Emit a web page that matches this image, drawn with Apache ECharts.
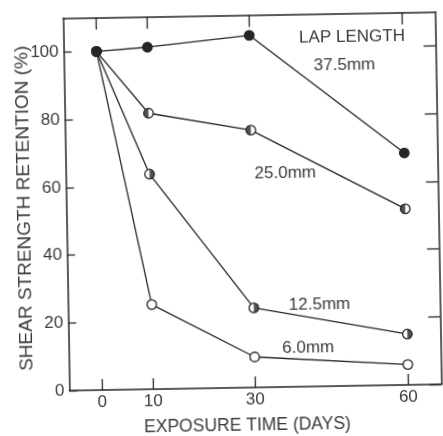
<!DOCTYPE html>
<html><head><meta charset="utf-8">
<script src="https://cdn.jsdelivr.net/npm/echarts@6/dist/echarts.min.js"></script>
<style>
html,body{margin:0;padding:0;background:#fff;overflow:hidden}
#c{width:443px;height:436px;transform:rotate(-0.97deg);transform-origin:221.5px 218px}
</style>
</head><body><div id="c"></div>
<script>
const days = [0, 10, 30, 60];
const lap375 = [100, 101, 104, 68.5];
const lap250 = [100, 81.5, 76, 52];
const lap125 = [100, 63.5, 23.5, 15];
const lap60 = [100, 25, 9, 6];
const xTicks = [0, 10, 30, 60];
const yTicks = [0, 20, 40, 60, 80, 100];
const seriesNames = ['37.5mm', '25.0mm', '12.5mm', '6.0mm'];
const xTitle = 'EXPOSURE TIME (DAYS)';
const yTitle = 'SHEAR STRENGTH RETENTION (%)';
const legendTitle = 'LAP LENGTH';

const ink = '#262626';
const txt = '#3a3a3a';
const font = '"Liberation Sans", Arial, sans-serif';
const pts = v => days.map((d, i) => [d, v[i]]);
const halfLeft = 'path://M10,0 A10,10 0 0,0 10,20 Z';
const halfRight = 'path://M0,0 A10,10 0 0,1 0,20 Z';

function lineSeries(name, vals, fill, z) {
  return {
    name, type: 'line', data: pts(vals), symbol: 'circle', symbolSize: 9.5,
    lineStyle: { color: ink, width: 1.3 },
    itemStyle: { color: fill, borderColor: ink, borderWidth: 1.3 },
    z: z
  };
}
function halfSeries(vals, path, off) {
  return {
    type: 'scatter', data: pts(vals), symbol: path, symbolSize: [4.75, 9.5], symbolOffset: [off, 0],
    itemStyle: { color: ink }, z: 4, silent: true
  };
}

const chart = echarts.init(document.getElementById('c'));
const axisLine = { show: true, onZero: false, lineStyle: { color: ink, width: 1.5 } };
const tick = (len, vals) => ({ show: true, inside: true, length: len, customValues: vals, lineStyle: { color: ink, width: 1.3 } });
const lbl = { fontFamily: font, fontSize: 17, color: txt };

chart.setOption({
  animation: false,
  backgroundColor: '#fff',
  grid: { left: 66.5, right: 4.5, top: 15.5, bottom: 48 },
  xAxis: [
    { type: 'value', min: -6.43, max: 66.5, position: 'bottom', axisLine, splitLine: { show: false },
      axisTick: tick(11, xTicks),
      axisLabel: Object.assign({ customValues: xTicks, margin: 4 }, lbl) },
    { type: 'value', min: -6.43, max: 66.5, position: 'top', axisLine, splitLine: { show: false },
      axisTick: tick(12, xTicks), axisLabel: { show: false } }
  ],
  yAxis: [
    { type: 'value', min: 0, max: 110, position: 'left', axisLine, splitLine: { show: false },
      axisTick: tick(8, yTicks),
      axisLabel: Object.assign({ customValues: yTicks, margin: 5 }, lbl) },
    { type: 'value', min: 0, max: 110, position: 'right', axisLine, splitLine: { show: false },
      axisTick: tick(12, yTicks), axisLabel: { show: false } }
  ],
  series: [
    lineSeries(seriesNames[1], lap250, '#fff', 3),
    lineSeries(seriesNames[2], lap125, '#fff', 3),
    lineSeries(seriesNames[3], lap60, '#fff', 3),
    halfSeries(lap250, halfLeft, -2.375),
    halfSeries(lap125, halfRight, 2.375),
    lineSeries(seriesNames[0], lap375, ink, 5)
  ],
  graphic: [
    { type: 'text', x: 355, y: 39, style: { text: legendTitle, font: '17px ' + font, fill: txt, align: 'center', verticalAlign: 'middle' } },
    { type: 'text', x: 347, y: 67, style: { text: seriesNames[0], font: '17px ' + font, fill: txt, align: 'center', verticalAlign: 'middle' } },
    { type: 'text', x: 286, y: 174.5, style: { text: seriesNames[1], font: '17px ' + font, fill: txt, align: 'center', verticalAlign: 'middle' } },
    { type: 'text', x: 318, y: 306, style: { text: seriesNames[2], font: '17px ' + font, fill: txt, align: 'center', verticalAlign: 'middle' } },
    { type: 'text', x: 306, y: 349, style: { text: seriesNames[3], font: '17px ' + font, fill: txt, align: 'center', verticalAlign: 'middle' } },
    { type: 'text', x: 244, y: 426.5, style: { text: xTitle, font: '17.5px ' + font, fill: txt, align: 'center', verticalAlign: 'middle' } },
    { type: 'text', x: 25, y: 205, rotation: Math.PI / 2, style: { text: yTitle, font: '19px ' + font, fill: txt, align: 'center', verticalAlign: 'middle' } }
  ]
});
</script></body></html>
